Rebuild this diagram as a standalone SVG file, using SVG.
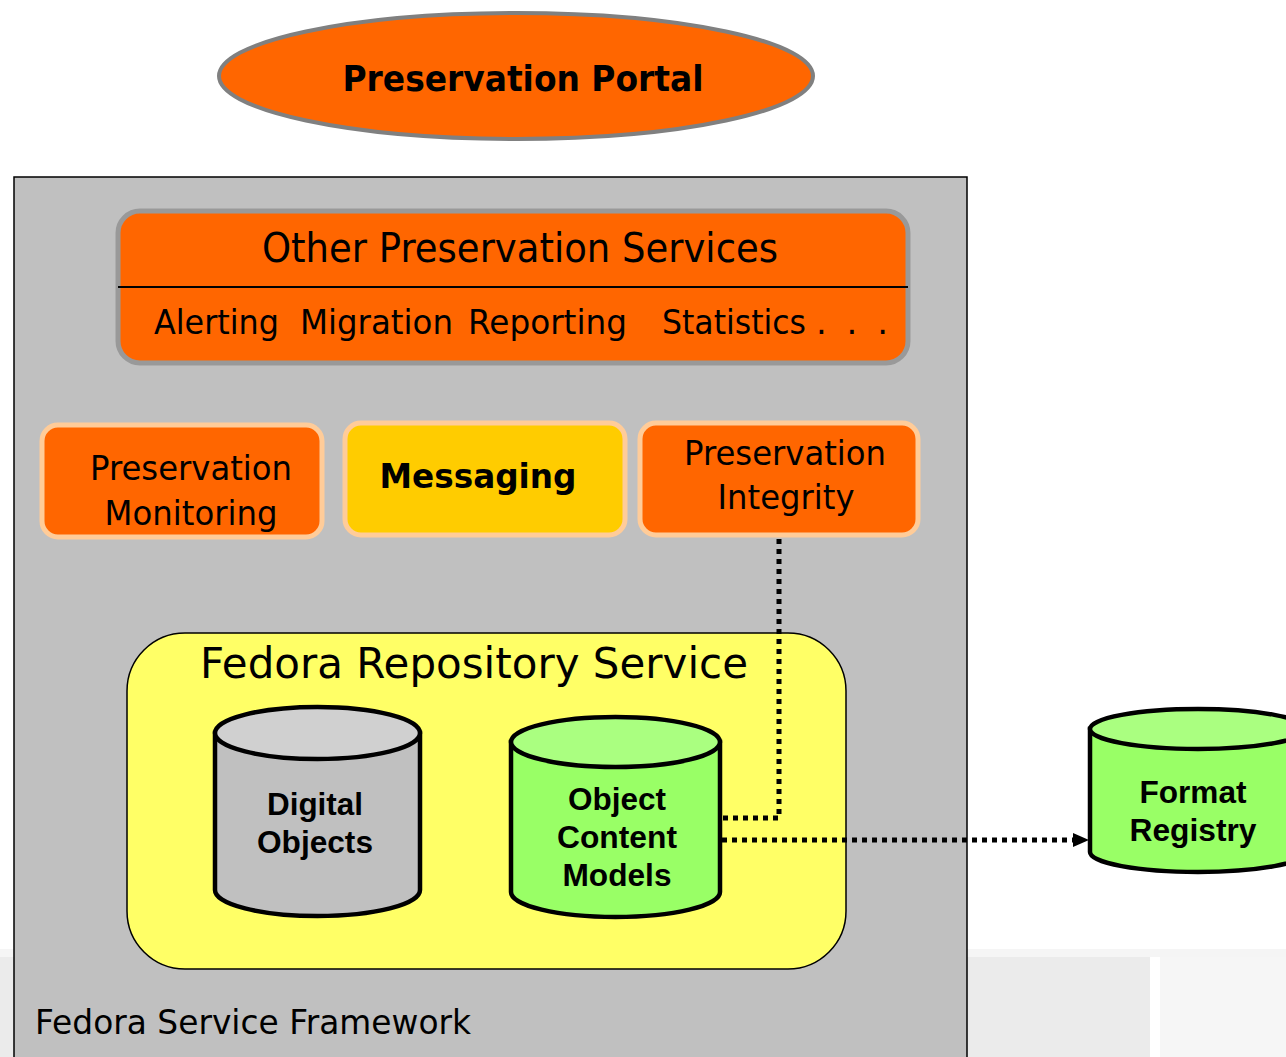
<svg xmlns="http://www.w3.org/2000/svg" width="1286" height="1057" viewBox="0 0 1286 1057">
<defs>
<style>
.t{font-family:"DejaVu Sans","Liberation Sans",sans-serif;fill:#000}
.b{font-family:"Liberation Sans","DejaVu Sans",sans-serif;font-weight:bold;fill:#000}
.svc{fill:#FF6600;stroke:#FFCC99;stroke-width:5}
.cyl{stroke:#000;stroke-width:4.5}
.dot{fill:none;stroke:#000;stroke-width:5;stroke-dasharray:5 5}
</style>
<marker id="arr" viewBox="0 0 16 14" refX="15" refY="7" markerWidth="16" markerHeight="14" markerUnits="userSpaceOnUse" orient="auto">
<path d="M0,0 L16,7 L0,14 Z" fill="#000"/>
</marker>
</defs>
<rect x="0" y="0" width="1286" height="1057" fill="#fff"/>
<g id="bg-band">
<rect x="0" y="949" width="1150" height="108" fill="#ebebeb"/>
<rect x="1160" y="949" width="126" height="108" fill="#f6f6f6"/>
<rect x="0" y="949" width="1286" height="8" fill="#f5f5f5"/>
</g>
<g id="portal">
<ellipse cx="516" cy="76" rx="297" ry="63" fill="#FF6600" stroke="#808080" stroke-width="4"/>
<text class="t" x="523" y="91" font-size="36" font-weight="bold" text-anchor="middle" textLength="361" lengthAdjust="spacingAndGlyphs">Preservation Portal</text>
</g>
<g id="framework">
<rect x="14" y="177" width="953" height="900" fill="#C0C0C0" stroke="#000" stroke-width="1.5"/>
<text class="t" x="35" y="1034" font-size="34" textLength="436" lengthAdjust="spacingAndGlyphs">Fedora Service Framework</text>
</g>
<g id="other-services">
<rect x="118" y="211" width="790" height="152" rx="22" fill="#FF6600" stroke="#999999" stroke-width="5"/>
<line x1="118" y1="287" x2="908" y2="287" stroke="#000" stroke-width="2"/>
<text class="t" x="262" y="262" font-size="41" textLength="516" lengthAdjust="spacingAndGlyphs">Other Preservation Services</text>
<text class="t" x="154" y="334" font-size="34" textLength="125" lengthAdjust="spacingAndGlyphs">Alerting</text>
<text class="t" x="300" y="334" font-size="34" textLength="153" lengthAdjust="spacingAndGlyphs">Migration</text>
<text class="t" x="468" y="334" font-size="34" textLength="159" lengthAdjust="spacingAndGlyphs">Reporting</text>
<text class="t" x="662" y="334" font-size="34" textLength="144" lengthAdjust="spacingAndGlyphs">Statistics</text>
<text class="t" x="816" y="334" font-size="34" textLength="72" lengthAdjust="spacing">. . .</text>
</g>
<g id="monitoring">
<rect class="svc" x="42" y="425" width="280" height="112" rx="16"/>
<text class="t" x="191" y="480" font-size="34" text-anchor="middle" textLength="202" lengthAdjust="spacingAndGlyphs">Preservation</text>
<text class="t" x="191" y="525" font-size="34" text-anchor="middle" textLength="173" lengthAdjust="spacingAndGlyphs">Monitoring</text>
</g>
<g id="messaging">
<rect x="345" y="423" width="280" height="112" rx="16" fill="#FFCC00" stroke="#FFCC99" stroke-width="5"/>
<text class="t" x="478" y="488" font-size="34" font-weight="bold" text-anchor="middle" textLength="197" lengthAdjust="spacingAndGlyphs">Messaging</text>
</g>
<g id="integrity">
<rect class="svc" x="640" y="423" width="278" height="112" rx="16"/>
<text class="t" x="785" y="465" font-size="34" text-anchor="middle" textLength="202" lengthAdjust="spacingAndGlyphs">Preservation</text>
<text class="t" x="786" y="509" font-size="34" text-anchor="middle" textLength="137" lengthAdjust="spacingAndGlyphs">Integrity</text>
</g>
<g id="repository">
<rect x="127" y="633" width="719" height="336" rx="58" fill="#FFFF66" stroke="#000" stroke-width="1.5"/>
<text class="t" x="474" y="678" font-size="42" text-anchor="middle" textLength="548" lengthAdjust="spacingAndGlyphs">Fedora Repository Service</text>
</g>
<g id="digital-objects">
<path class="cyl" d="M215,733 L215,890 A102.5,26 0 0 0 420,890 L420,733 Z" fill="#C0C0C0"/>
<ellipse class="cyl" cx="317.5" cy="733" rx="102.5" ry="26" fill="#D0D0D0"/>
<text class="b" x="315" y="815" font-size="31" text-anchor="middle" textLength="96" lengthAdjust="spacingAndGlyphs">Digital</text>
<text class="b" x="315" y="853" font-size="31" text-anchor="middle" textLength="116" lengthAdjust="spacingAndGlyphs">Objects</text>
</g>
<g id="content-models">
<path class="cyl" d="M511,742 L511,892 A104.5,25 0 0 0 720,892 L720,742 Z" fill="#99FF66"/>
<ellipse class="cyl" cx="615.5" cy="742" rx="104.5" ry="25" fill="#AAFF80"/>
<text class="b" x="617" y="810" font-size="31" text-anchor="middle" textLength="98" lengthAdjust="spacingAndGlyphs">Object</text>
<text class="b" x="617" y="848" font-size="31" text-anchor="middle" textLength="120" lengthAdjust="spacingAndGlyphs">Content</text>
<text class="b" x="617" y="886" font-size="31" text-anchor="middle" textLength="109" lengthAdjust="spacingAndGlyphs">Models</text>
</g>
<g id="format-registry">
<path class="cyl" d="M1090,729 L1090,852 A108,20 0 0 0 1306,852 L1306,729 Z" fill="#99FF66"/>
<ellipse class="cyl" cx="1198" cy="729" rx="108" ry="20" fill="#AAFF80"/>
<text class="b" x="1193" y="803" font-size="31" text-anchor="middle" textLength="107" lengthAdjust="spacingAndGlyphs">Format</text>
<text class="b" x="1193" y="841" font-size="31" text-anchor="middle" textLength="127" lengthAdjust="spacingAndGlyphs">Registry</text>
</g>
<g id="connectors">
<path class="dot" d="M779,539 L779,818 L722,818"/>
<path class="dot" d="M722,840 L1076,840"/>
<polygon points="1073,833 1089,840 1073,847" fill="#000"/>
</g>
</svg>
